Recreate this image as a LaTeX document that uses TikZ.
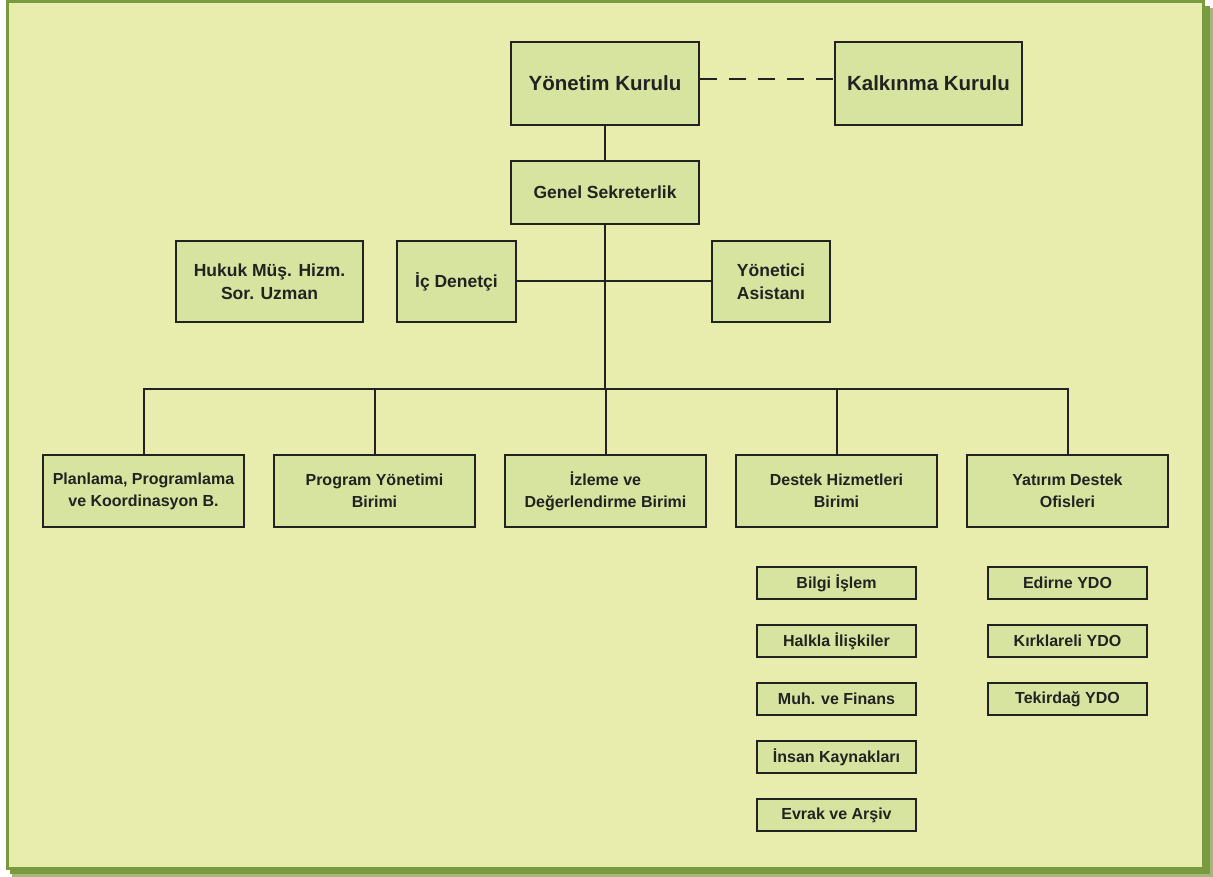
\documentclass[tikz,border=0pt]{standalone}
\usepackage{fontspec}
\setmainfont{Liberation Sans}
\definecolor{bgc}{HTML}{E8EDAE}
\definecolor{boxc}{HTML}{D6E49F}
\definecolor{framec}{HTML}{7A9A3F}
\definecolor{shadowc}{HTML}{A3B878}
\definecolor{linec}{HTML}{222222}
\begin{document}
\begin{tikzpicture}[x=1pt,y=-1pt,
  box/.style={draw=linec,line width=2.6pt,fill=boxc,inner sep=0pt,align=center,font=\bfseries\fontsize{16}{22}\selectfont,text=linec},
  big/.style={font=\bfseries\fontsize{20.5}{24}\selectfont},
  mid/.style={font=\bfseries\fontsize{17.5}{23}\selectfont},
  conn/.style={draw=linec,line width=2pt}]
\useasboundingbox (0,0) rectangle (1213,877);
% frame with shadow
\fill[shadowc] (12,8) rectangle (1213,877);
\fill[framec] (10,6) rectangle (1210,874);
\fill[bgc,draw=framec,line width=3pt] (7.5,1.5) rectangle (1203.5,868.5);
% top
\node[box,big,minimum width=188,minimum height=83] (yk) at (605,83.5) {Yönetim Kurulu};
\node[box,big,minimum width=187,minimum height=83] (kk) at (928.5,83.5) {Kalkınma Kurulu};
\node[box,mid,minimum width=188,minimum height=63] (gs) at (605,192.5) {Genel Sekreterlik};
\node[box,mid,minimum width=187,minimum height=81] (hk) at (269.5,281.5) {Hukuk Müş. Hizm.\\Sor. Uzman};
\node[box,mid,minimum width=119,minimum height=81] (id) at (456.5,281.5) {İç Denetçi};
\node[box,mid,minimum width=118,minimum height=81] (ya) at (771,281.5) {Yönetici\\Asistanı};
% bottom row
\node[box,minimum width=201,minimum height=72] (pp) at (143.5,491) {Planlama, Programlama\\ve Koordinasyon B.};
\node[box,minimum width=201,minimum height=72] (py) at (374.5,491) {Program Yönetimi\\Birimi};
\node[box,minimum width=201,minimum height=72] (iz) at (605.5,491) {İzleme ve\\Değerlendirme Birimi};
\node[box,minimum width=201,minimum height=72] (dh) at (836.5,491) {Destek Hizmetleri\\Birimi};
\node[box,minimum width=201,minimum height=72] (yd) at (1067.5,491) {Yatırım Destek\\Ofisleri};
% small boxes
\node[box,minimum width=159,minimum height=32] (b1) at (836.5,583) {Bilgi İşlem};
\node[box,minimum width=159,minimum height=32] (b2) at (836.5,641) {Halkla İlişkiler};
\node[box,minimum width=159,minimum height=32] (b3) at (836.5,699) {Muh. ve Finans};
\node[box,minimum width=159,minimum height=32] (b4) at (836.5,757) {İnsan Kaynakları};
\node[box,minimum width=159,minimum height=32] (b5) at (836.5,815) {Evrak ve Arşiv};
\node[box,minimum width=159,minimum height=32] (c1) at (1067.5,583) {Edirne YDO};
\node[box,minimum width=159,minimum height=32] (c2) at (1067.5,641) {Kırklareli YDO};
\node[box,minimum width=159,minimum height=32] (c3) at (1067.5,699) {Tekirdağ YDO};
% connectors
\draw[conn,dash pattern=on 17pt off 12pt] (yk.east |- 0,79) -- (kk.west |- 0,79);
\draw[conn] (yk.south) -- (gs.north);
\coordinate (bus) at (605,389);
\draw[conn] (gs.south) -- (bus);
\draw[conn] (id.east) -- (ya.west);
\draw[conn] (pp.north) |- (bus) -| (yd.north);
\draw[conn] (py.north) -- (py.north |- bus);
\draw[conn] (iz.north) -- (iz.north |- bus);
\draw[conn] (dh.north) -- (dh.north |- bus);
\end{tikzpicture}
\end{document}
